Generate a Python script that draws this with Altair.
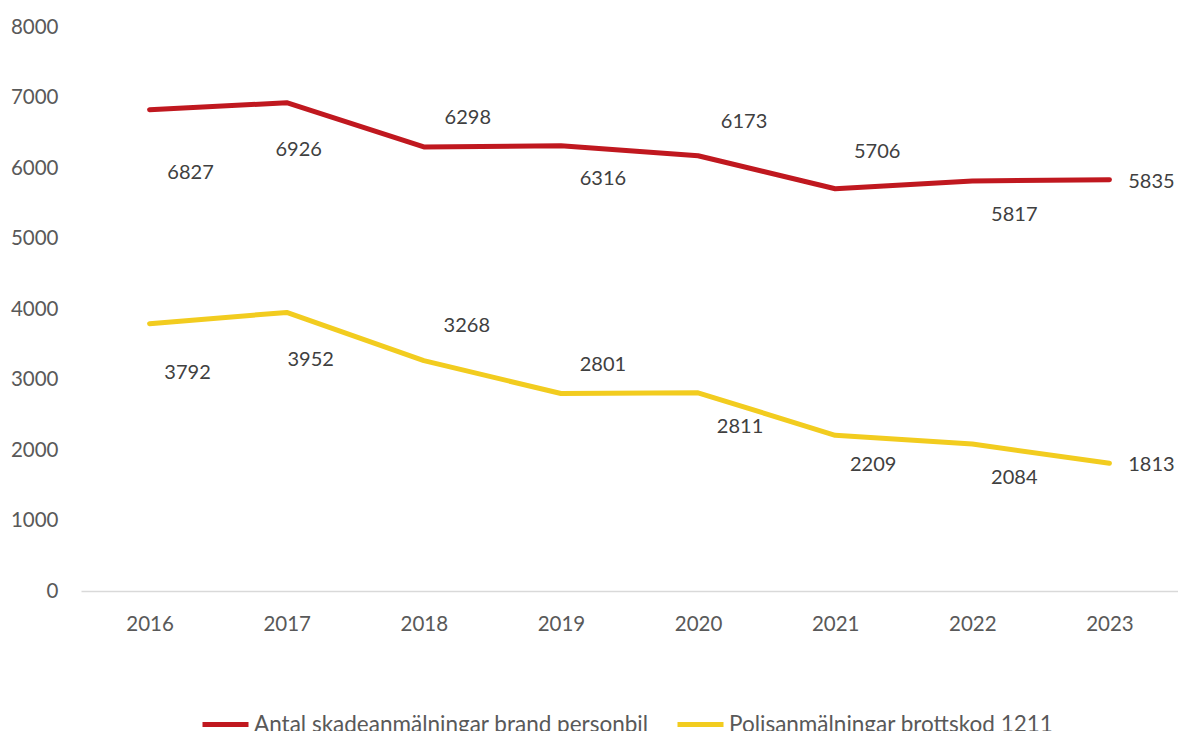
import altair as alt
import pandas as pd

years = ["2016", "2017", "2018", "2019", "2020", "2021", "2022", "2023"]
series_names = ["Antal skadeanmälningar brand personbil", "Polisanmälningar brottskod 1211"]
skade = [6827, 6926, 6298, 6316, 6173, 5706, 5817, 5835]
polis = [3792, 3952, 3268, 2801, 2811, 2209, 2084, 1813]
colors = ["#C0181F", "#F2CC1F"]

# label offsets in pixels relative to each point (layout, not data)
skade_dx = [41, 12, 44, 42, 46, 42, 42, 42]
skade_dy = [63, 47, -29, 33, -34, -37, 34, 2]
polis_dx = [38, 24, 43, 42, 42, 38, 42, 42]
polis_dy = [49, 48, -35, -29, 34, 30, 34, 2]

rows = []
for i, y in enumerate(years):
    rows.append({"year": y, "series": series_names[0], "value": skade[i],
                 "ldx": skade_dx[i], "ldy": skade_dy[i]})
for i, y in enumerate(years):
    rows.append({"year": y, "series": series_names[1], "value": polis[i],
                 "ldx": polis_dx[i], "ldy": polis_dy[i]})
df = pd.DataFrame(rows)

FONT = "Lato"

x = alt.X("year:O", title=None,
          scale=alt.Scale(type="point", padding=0.5),
          axis=alt.Axis(labelAngle=0, labelFont=FONT, labelFontSize=20.5,
                        labelColor="#595959", domainColor="#D9D9D9", domainWidth=1.5,
                        ticks=False, labelPadding=23))
y = alt.Y("value:Q", title=None,
          scale=alt.Scale(domain=[0, 8000], nice=False),
          axis=alt.Axis(values=list(range(0, 8001, 1000)), format="d", labelFont=FONT,
                        labelFontSize=20.5, labelColor="#595959", domain=False,
                        ticks=False, grid=False, labelPadding=23))

color = alt.Color("series:N", sort=series_names,
                  scale=alt.Scale(domain=series_names, range=colors),
                  legend=alt.Legend(title=None, orient="none", direction="horizontal",
                                    legendX=119, legendY=672,
                                    symbolType="stroke", symbolSize=2116,
                                    symbolStrokeWidth=5, labelFont=FONT,
                                    labelFontSize=22.5, labelColor="#595959",
                                    labelOffset=3, columnPadding=18,
                                    labelLimit=600))

lines = alt.Chart(df).mark_line(strokeWidth=5, strokeCap="round",
                                strokeJoin="round").encode(
    x=x, y=y, color=color, order=alt.Order("year:O"))

labels = alt.Chart(df).mark_text(
    font=FONT, fontSize=20, color="#404040", baseline="middle", align="center",
    dx={"expr": "datum.ldx"}, dy={"expr": "datum.ldy"}
).encode(x=x, y=y, text=alt.Text("value:Q", format="d"))

chart = alt.layer(lines, labels).properties(
    width=1097, height=564,
    autosize=alt.AutoSizeParams(type="none"),
    padding={"left": 81, "top": 27, "right": 0, "bottom": 140},
    background="white",
).configure_view(stroke=None)

chart.save("out.html", embed_options={"renderer": "svg", "actions": False})
